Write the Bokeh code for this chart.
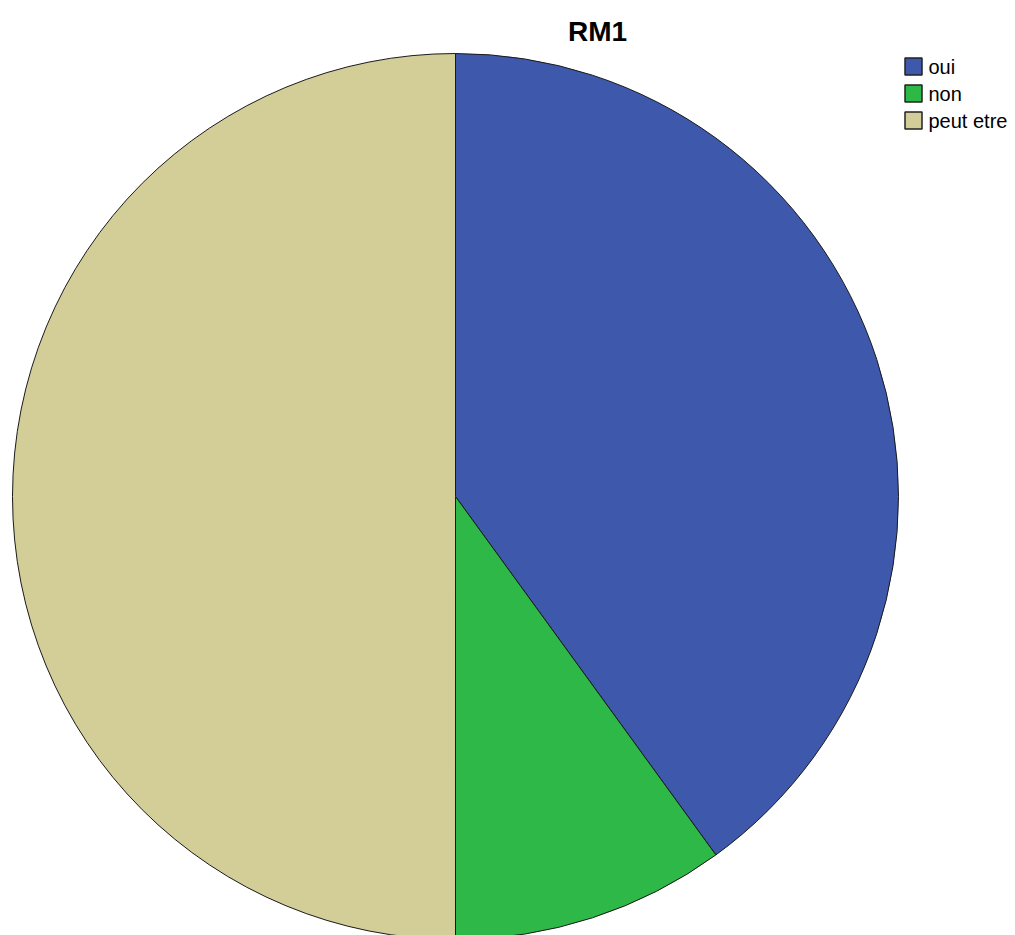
import math

from bokeh.core.properties import value
from bokeh.embed import file_html
from bokeh.models import ColumnDataSource, Range1d
from bokeh.plotting import figure
from bokeh.resources import INLINE

# Chart content
title = "RM1"
categories = ["oui", "non", "peut etre"]
shares = [40, 10, 50]
colors = ["#3E58AC", "#2EB848", "#D3CE97"]

W, H = 1015, 935
FONT = "Liberation Sans"

p = figure(
    width=W, height=H,
    x_range=Range1d(0, W), y_range=Range1d(0, H),
    x_axis_type=None, y_axis_type=None,
    output_backend="svg", toolbar_location=None,
    min_border=0, outline_line_color=None,
    background_fill_color="white", border_fill_color="white",
)
p.grid.visible = False

# Pie wedges, clockwise from 12 o'clock
total = float(sum(shares))
starts, ends = [], []
cum = 0.0
for s in shares:
    starts.append(math.pi / 2 - 2 * math.pi * cum / total)
    cum += s
    ends.append(math.pi / 2 - 2 * math.pi * cum / total)

cx, cy, r = 455, H - 496, 443
pie = ColumnDataSource(dict(start=starts, end=ends, color=colors, cat=categories))
p.wedge(x=cx, y=cy, radius=r, start_angle="start", end_angle="end",
        direction="clock", fill_color="color", line_color="#1a1a1a",
        line_width=1, source=pie)

# Title
p.text(x=[597], y=[H - 31], text=[title], text_font=value(FONT),
       text_font_style="bold", text_font_size="28px", text_align="center",
       text_baseline="middle", text_color="black")

# Legend
n = len(categories)
ly = [H - (66 + 27 * i) for i in range(n)]
leg = ColumnDataSource(dict(x=[913] * n, y=ly, tx=[928] * n, color=colors, cat=categories))
p.rect(x="x", y="y", width=17, height=17, width_units="screen",
       height_units="screen", fill_color="color", line_color="#222222",
       line_width=1.5, source=leg)
p.text(x="tx", y="y", text="cat", text_font=value(FONT), text_font_size="20px",
       text_baseline="middle", text_color="black", source=leg)

open("out.html", "w").write(file_html(p, INLINE))
